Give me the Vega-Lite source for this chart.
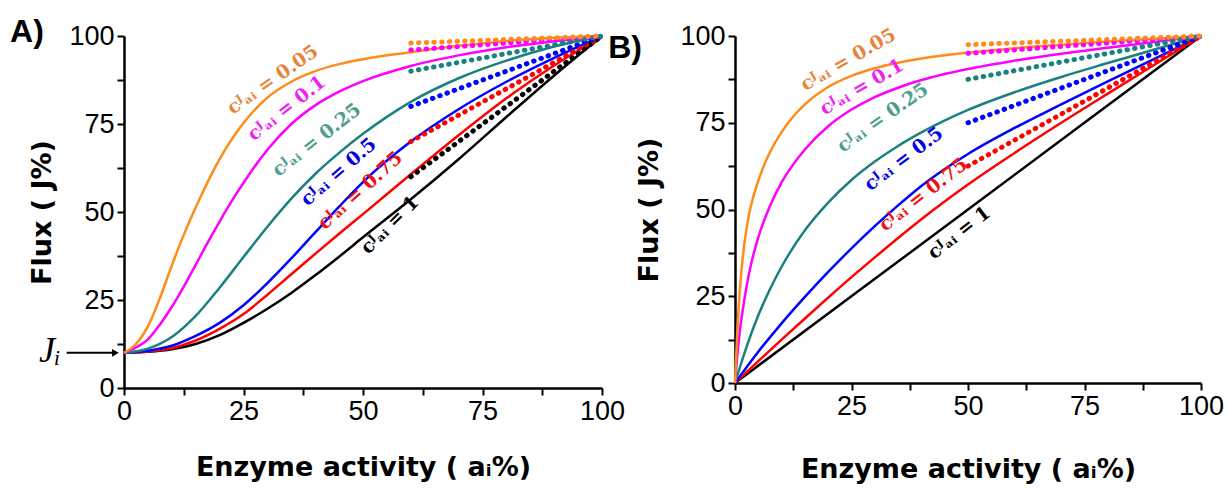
{
  "$schema": "https://vega.github.io/schema/vega-lite/v6.json",
  "background": "white",
  "padding": {"left": 10, "top": 16, "right": 5, "bottom": 5},
  "bounds": "flush",
  "spacing": 133,
  "config": {
    "view": {"stroke": null},
    "axis": {
      "grid": false,
      "domainColor": "black", "domainWidth": 2.5,
      "tickColor": "black", "tickWidth": 2, "tickSize": 7,
      "labelFont": "Liberation Sans", "labelFontSize": 27, "labelColor": "black", "labelPadding": 3,
      "labelFlush": false, "labelOverlap": false,
      "titleFont": "DejaVu Sans", "titleFontSize": 27, "titleFontWeight": "bold", "titleColor": "black"
    }
  },
  "datasets": {
    "curvesA": [
      {"C":"1","x":0,"J":10},{"C":"1","x":5,"J":10.3},{"C":"1","x":10,"J":11},{"C":"1","x":15,"J":12.5},{"C":"1","x":20,"J":15},{"C":"1","x":25,"J":18.5},{"C":"1","x":30,"J":22.5},{"C":"1","x":35,"J":27},{"C":"1","x":40,"J":32},{"C":"1","x":45,"J":37.3},{"C":"1","x":50,"J":42.8},{"C":"1","x":60,"J":53.6},{"C":"1","x":70,"J":65},{"C":"1","x":80,"J":77},{"C":"1","x":90,"J":88.8},{"C":"1","x":100,"J":100},
      {"C":"0.75","x":0,"J":10},{"C":"0.75","x":5,"J":10.4},{"C":"0.75","x":10,"J":11.3},{"C":"0.75","x":15,"J":13.5},{"C":"0.75","x":20,"J":16.8},{"C":"0.75","x":25,"J":21},{"C":"0.75","x":30,"J":26.5},{"C":"0.75","x":35,"J":32.3},{"C":"0.75","x":40,"J":38.1},{"C":"0.75","x":45,"J":43.8},{"C":"0.75","x":50,"J":49.4},{"C":"0.75","x":60,"J":60.7},{"C":"0.75","x":70,"J":71.8},{"C":"0.75","x":80,"J":82.3},{"C":"0.75","x":90,"J":91.6},{"C":"0.75","x":100,"J":100},
      {"C":"0.5","x":0,"J":10},{"C":"0.5","x":5,"J":10.6},{"C":"0.5","x":10,"J":12},{"C":"0.5","x":15,"J":14.8},{"C":"0.5","x":20,"J":18.5},{"C":"0.5","x":25,"J":23.5},{"C":"0.5","x":30,"J":29.8},{"C":"0.5","x":35,"J":36.8},{"C":"0.5","x":40,"J":44.2},{"C":"0.5","x":45,"J":51.5},{"C":"0.5","x":50,"J":58.5},{"C":"0.5","x":60,"J":70},{"C":"0.5","x":70,"J":79.2},{"C":"0.5","x":80,"J":87},{"C":"0.5","x":90,"J":93.8},{"C":"0.5","x":100,"J":100},
      {"C":"0.25","x":0,"J":10},{"C":"0.25","x":5,"J":11.2},{"C":"0.25","x":10,"J":14.5},{"C":"0.25","x":15,"J":20.5},{"C":"0.25","x":20,"J":28.5},{"C":"0.25","x":25,"J":37.2},{"C":"0.25","x":30,"J":45.8},{"C":"0.25","x":35,"J":53.8},{"C":"0.25","x":40,"J":60.8},{"C":"0.25","x":45,"J":66.8},{"C":"0.25","x":50,"J":72.2},{"C":"0.25","x":60,"J":81.3},{"C":"0.25","x":70,"J":88},{"C":"0.25","x":80,"J":93},{"C":"0.25","x":90,"J":97},{"C":"0.25","x":100,"J":100},
      {"C":"0.1","x":0,"J":10},{"C":"0.1","x":2.5,"J":11.5},{"C":"0.1","x":5,"J":13.8},{"C":"0.1","x":7.5,"J":18},{"C":"0.1","x":10,"J":23},{"C":"0.1","x":12.5,"J":28.8},{"C":"0.1","x":15,"J":35},{"C":"0.1","x":17.5,"J":41.3},{"C":"0.1","x":20,"J":47.3},{"C":"0.1","x":22.5,"J":53},{"C":"0.1","x":25,"J":58.3},{"C":"0.1","x":30,"J":67.7},{"C":"0.1","x":35,"J":75},{"C":"0.1","x":40,"J":80.3},{"C":"0.1","x":45,"J":84.2},{"C":"0.1","x":50,"J":87.2},{"C":"0.1","x":60,"J":91.5},{"C":"0.1","x":70,"J":94.5},{"C":"0.1","x":80,"J":96.8},{"C":"0.1","x":90,"J":98.5},{"C":"0.1","x":100,"J":100},
      {"C":"0.05","x":0,"J":10},{"C":"0.05","x":2.5,"J":12.5},{"C":"0.05","x":5,"J":17.5},{"C":"0.05","x":7.5,"J":25.5},{"C":"0.05","x":10,"J":34.8},{"C":"0.05","x":12.5,"J":43.5},{"C":"0.05","x":15,"J":51.3},{"C":"0.05","x":17.5,"J":58.5},{"C":"0.05","x":20,"J":65},{"C":"0.05","x":22.5,"J":70.6},{"C":"0.05","x":25,"J":75.3},{"C":"0.05","x":30,"J":82.5},{"C":"0.05","x":35,"J":87},{"C":"0.05","x":40,"J":90},{"C":"0.05","x":45,"J":92},{"C":"0.05","x":50,"J":93.4},{"C":"0.05","x":60,"J":95.4},{"C":"0.05","x":70,"J":97.2},{"C":"0.05","x":80,"J":98.6},{"C":"0.05","x":90,"J":99.5},{"C":"0.05","x":100,"J":100}
    ],
    "dotsA": [
      {"C":"1","x":60,"J":60},{"C":"1","x":100,"J":100},
      {"C":"0.75","x":60,"J":70},{"C":"0.75","x":100,"J":100},
      {"C":"0.5","x":60,"J":80},{"C":"0.5","x":100,"J":100},
      {"C":"0.25","x":60,"J":90},{"C":"0.25","x":100,"J":100},
      {"C":"0.1","x":60,"J":96},{"C":"0.1","x":100,"J":100},
      {"C":"0.05","x":60,"J":98},{"C":"0.05","x":100,"J":100}
    ],
    "labelsA": [
      {"C":"0.05","x":31.1,"J":87.6,"t":"cᴶₐᵢ = 0.05"},
      {"C":"0.1","x":34,"J":79.5,"t":"cᴶₐᵢ = 0.1"},
      {"C":"0.25","x":40.3,"J":70.5,"t":"cᴶₐᵢ = 0.25"},
      {"C":"0.5","x":44.9,"J":61.4,"t":"cᴶₐᵢ = 0.5"},
      {"C":"0.75","x":49.4,"J":56.1,"t":"cᴶₐᵢ = 0.75"},
      {"C":"1","x":55.6,"J":46.3,"t":"cᴶₐᵢ = 1"}
    ],
    "curvesB": [
      {"C":"1","x":0,"J":0},{"C":"1","x":50,"J":50},{"C":"1","x":100,"J":100},
      {"C":"0.75","x":0,"J":0},{"C":"0.75","x":5,"J":6.3},{"C":"0.75","x":10,"J":12.5},{"C":"0.75","x":15,"J":18.6},{"C":"0.75","x":20,"J":24.6},{"C":"0.75","x":25,"J":30.5},{"C":"0.75","x":30,"J":36.2},{"C":"0.75","x":35,"J":41.8},{"C":"0.75","x":40,"J":47.2},{"C":"0.75","x":50,"J":57.2},{"C":"0.75","x":60,"J":66.3},{"C":"0.75","x":70,"J":75},{"C":"0.75","x":80,"J":83.4},{"C":"0.75","x":90,"J":91.7},{"C":"0.75","x":100,"J":100},
      {"C":"0.5","x":0,"J":0},{"C":"0.5","x":5,"J":9},{"C":"0.5","x":10,"J":17.2},{"C":"0.5","x":15,"J":24.8},{"C":"0.5","x":20,"J":32},{"C":"0.5","x":25,"J":38.8},{"C":"0.5","x":30,"J":45.2},{"C":"0.5","x":35,"J":51.2},{"C":"0.5","x":40,"J":56.8},{"C":"0.5","x":50,"J":66},{"C":"0.5","x":60,"J":73.5},{"C":"0.5","x":70,"J":80.3},{"C":"0.5","x":80,"J":86.9},{"C":"0.5","x":90,"J":93.4},{"C":"0.5","x":100,"J":100},
      {"C":"0.25","x":0,"J":0},{"C":"0.25","x":2.5,"J":10.5},{"C":"0.25","x":5,"J":19.5},{"C":"0.25","x":7.5,"J":27},{"C":"0.25","x":10,"J":33.5},{"C":"0.25","x":15,"J":44},{"C":"0.25","x":20,"J":52},{"C":"0.25","x":25,"J":58.5},{"C":"0.25","x":30,"J":63.8},{"C":"0.25","x":35,"J":68.3},{"C":"0.25","x":40,"J":72.2},{"C":"0.25","x":50,"J":78.7},{"C":"0.25","x":60,"J":83.8},{"C":"0.25","x":70,"J":88.2},{"C":"0.25","x":80,"J":92.2},{"C":"0.25","x":90,"J":96.1},{"C":"0.25","x":100,"J":100},
      {"C":"0.1","x":0,"J":0},{"C":"0.1","x":0.5,"J":8},{"C":"0.1","x":1,"J":14.5},{"C":"0.1","x":2,"J":24},{"C":"0.1","x":3,"J":31.5},{"C":"0.1","x":5,"J":42},{"C":"0.1","x":7.5,"J":51},{"C":"0.1","x":10,"J":57.8},{"C":"0.1","x":12.5,"J":63},{"C":"0.1","x":15,"J":67.3},{"C":"0.1","x":20,"J":74},{"C":"0.1","x":25,"J":78.8},{"C":"0.1","x":30,"J":82.4},{"C":"0.1","x":35,"J":85.1},{"C":"0.1","x":40,"J":87.3},{"C":"0.1","x":50,"J":90.5},{"C":"0.1","x":60,"J":92.9},{"C":"0.1","x":70,"J":94.9},{"C":"0.1","x":80,"J":96.6},{"C":"0.1","x":90,"J":98.3},{"C":"0.1","x":100,"J":100},
      {"C":"0.05","x":0,"J":0},{"C":"0.05","x":0.5,"J":15},{"C":"0.05","x":1,"J":26},{"C":"0.05","x":1.5,"J":34},{"C":"0.05","x":2,"J":40},{"C":"0.05","x":3,"J":48.5},{"C":"0.05","x":4,"J":54},{"C":"0.05","x":5,"J":58.3},{"C":"0.05","x":6,"J":62},{"C":"0.05","x":7.5,"J":66.5},{"C":"0.05","x":10,"J":72.3},{"C":"0.05","x":12.5,"J":76.8},{"C":"0.05","x":15,"J":80.3},{"C":"0.05","x":20,"J":85.3},{"C":"0.05","x":25,"J":88.5},{"C":"0.05","x":30,"J":90.7},{"C":"0.05","x":35,"J":92.3},{"C":"0.05","x":40,"J":93.5},{"C":"0.05","x":50,"J":95.2},{"C":"0.05","x":60,"J":96.5},{"C":"0.05","x":70,"J":97.5},{"C":"0.05","x":80,"J":98.4},{"C":"0.05","x":90,"J":99.2},{"C":"0.05","x":100,"J":100}
    ],
    "dotsB": [
      {"C":"0.75","x":50,"J":62.5},{"C":"0.75","x":100,"J":100},
      {"C":"0.5","x":50,"J":75},{"C":"0.5","x":100,"J":100},
      {"C":"0.25","x":50,"J":87.5},{"C":"0.25","x":100,"J":100},
      {"C":"0.1","x":50,"J":95},{"C":"0.1","x":100,"J":100},
      {"C":"0.05","x":50,"J":97.5},{"C":"0.05","x":100,"J":100}
    ],
    "labelsB": [
      {"C":"0.05","x":24.3,"J":93.2,"t":"cᴶₐᵢ = 0.05"},
      {"C":"0.1","x":27.2,"J":85.3,"t":"cᴶₐᵢ = 0.1"},
      {"C":"0.25","x":31.7,"J":76.5,"t":"cᴶₐᵢ = 0.25"},
      {"C":"0.5","x":36.2,"J":64.6,"t":"cᴶₐᵢ = 0.5"},
      {"C":"0.75","x":40.4,"J":54.3,"t":"cᴶₐᵢ = 0.75"},
      {"C":"1","x":48.1,"J":43.3,"t":"cᴶₐᵢ = 1"}
    ],
    "tagA": [{"x":-20.3,"J":101,"t":"A)"}],
    "tagB": [{"x":-23.6,"J":96.5,"t":"B)"}],
    "jiA": [{"x":-15.5,"J":10.5,"t":"Jᵢ"}],
    "arrowA": [{"x":-12,"x2":-1.8,"J":10}]
  },
  "hconcat": [
    {
      "width": 478, "height": 352,
      "encoding": {
        "x": {"field":"x","type":"quantitative","scale":{"domain":[0,100],"nice":false,"zero":false},
              "axis":{"values":[0,12.5,25,37.5,50,62.5,75,87.5,100],"format":"d","labelExpr":"datum.value % 25 === 0 ? datum.label : ''","title":"Enzyme activity ( aᵢ%)","titlePadding":30}},
        "y": {"field":"J","type":"quantitative","scale":{"domain":[0,100],"nice":false,"zero":false},
              "axis":{"values":[0,12.5,25,37.5,50,62.5,75,87.5,100],"format":"d","labelExpr":"datum.value % 25 === 0 ? datum.label : ''","title":"Flux ( J%)","titlePadding":12}}
      },
      "layer": [
        {"data":{"name":"curvesA"},"mark":{"type":"line","strokeWidth":2.5,"interpolate":"monotone"},
         "encoding":{"color":{"field":"C","type":"nominal","legend":null,"scale":{"domain":["0.05","0.1","0.25","0.5","0.75","1"],"range":["#FF8C1A","#FF00FF","#1A8080","#0000FF","#FF0000","#000000"]}}}},
        {"data":{"name":"dotsA"},"mark":{"type":"line","strokeWidth":5,"strokeCap":"round","strokeDash":[0.5,7.2]},
         "encoding":{"color":{"field":"C","type":"nominal","legend":null,"scale":{"domain":["0.05","0.1","0.25","0.5","0.75","1"],"range":["#FF8C1A","#FF00FF","#1A8080","#0000FF","#FF0000","#000000"]}}}},
        {"data":{"name":"labelsA"},"transform":[{"filter":"datum.C === '0.05'"}],"mark":{"type":"text","font":"DejaVu Serif","fontWeight":"bold","fontSize":19,"align":"center","baseline":"middle","angle":325},
         "encoding":{"text":{"field":"t"},"fill":{"field":"C","type":"nominal","legend":null,"scale":{"domain":["0.05","0.1","0.25","0.5","0.75","1"],"range":["#E8843A","#F01EF0","#4E9E8E","#0000E6","#F01010","#000000"]}}}},
        {"data":{"name":"labelsA"},"transform":[{"filter":"datum.C === '0.1'"}],"mark":{"type":"text","font":"DejaVu Serif","fontWeight":"bold","fontSize":19,"align":"center","baseline":"middle","angle":322},
         "encoding":{"text":{"field":"t"},"fill":{"field":"C","type":"nominal","legend":null,"scale":{"domain":["0.05","0.1","0.25","0.5","0.75","1"],"range":["#E8843A","#F01EF0","#4E9E8E","#0000E6","#F01010","#000000"]}}}},
        {"data":{"name":"labelsA"},"transform":[{"filter":"datum.C === '0.25'"}],"mark":{"type":"text","font":"DejaVu Serif","fontWeight":"bold","fontSize":19,"align":"center","baseline":"middle","angle":322},
         "encoding":{"text":{"field":"t"},"fill":{"field":"C","type":"nominal","legend":null,"scale":{"domain":["0.05","0.1","0.25","0.5","0.75","1"],"range":["#E8843A","#F01EF0","#4E9E8E","#0000E6","#F01010","#000000"]}}}},
        {"data":{"name":"labelsA"},"transform":[{"filter":"datum.C === '0.5'"}],"mark":{"type":"text","font":"DejaVu Serif","fontWeight":"bold","fontSize":19,"align":"center","baseline":"middle","angle":319},
         "encoding":{"text":{"field":"t"},"fill":{"field":"C","type":"nominal","legend":null,"scale":{"domain":["0.05","0.1","0.25","0.5","0.75","1"],"range":["#E8843A","#F01EF0","#4E9E8E","#0000E6","#F01010","#000000"]}}}},
        {"data":{"name":"labelsA"},"transform":[{"filter":"datum.C === '0.75'"}],"mark":{"type":"text","font":"DejaVu Serif","fontWeight":"bold","fontSize":19,"align":"center","baseline":"middle","angle":318},
         "encoding":{"text":{"field":"t"},"fill":{"field":"C","type":"nominal","legend":null,"scale":{"domain":["0.05","0.1","0.25","0.5","0.75","1"],"range":["#E8843A","#F01EF0","#4E9E8E","#0000E6","#F01010","#000000"]}}}},
        {"data":{"name":"labelsA"},"transform":[{"filter":"datum.C === '1'"}],"mark":{"type":"text","font":"DejaVu Serif","fontWeight":"bold","fontSize":19,"align":"center","baseline":"middle","angle":315},
         "encoding":{"text":{"field":"t"},"fill":{"field":"C","type":"nominal","legend":null,"scale":{"domain":["0.05","0.1","0.25","0.5","0.75","1"],"range":["#E8843A","#F01EF0","#4E9E8E","#0000E6","#F01010","#000000"]}}}},
        {"data":{"name":"tagA"},"mark":{"type":"text","font":"Liberation Sans","fontWeight":"bold","fontSize":32,"align":"center","baseline":"middle","color":"black"},
         "encoding":{"text":{"field":"t"}}},
        {"data":{"name":"jiA"},"mark":{"type":"text","font":"Liberation Serif","fontStyle":"italic","fontSize":36,"align":"center","baseline":"middle","color":"black"},
         "encoding":{"text":{"field":"t"}}},
        {"data":{"name":"arrowA"},"mark":{"type":"rule","color":"black","strokeWidth":2},
         "encoding":{"x2":{"field":"x2"}}},
        {"data":{"name":"arrowA"},"mark":{"type":"point","shape":"triangle-right","filled":true,"color":"black","size":60,"opacity":1},
         "encoding":{"x":{"field":"x2","type":"quantitative"}}}
      ]
    },
    {
      "width": 466, "height": 347,
      "encoding": {
        "x": {"field":"x","type":"quantitative","scale":{"domain":[0,100],"nice":false,"zero":false},
              "axis":{"values":[0,12.5,25,37.5,50,62.5,75,87.5,100],"format":"d","labelExpr":"datum.value % 25 === 0 ? datum.label : ''","title":"Enzyme activity ( aᵢ%)","titlePadding":37}},
        "y": {"field":"J","type":"quantitative","scale":{"domain":[0,100],"nice":false,"zero":false},
              "axis":{"values":[0,12.5,25,37.5,50,62.5,75,87.5,100],"format":"d","labelExpr":"datum.value % 25 === 0 ? datum.label : ''","title":"Flux ( J%)","titlePadding":16}}
      },
      "layer": [
        {"data":{"name":"curvesB"},"mark":{"type":"line","strokeWidth":2.5,"interpolate":"monotone"},
         "encoding":{"color":{"field":"C","type":"nominal","legend":null,"scale":{"domain":["0.05","0.1","0.25","0.5","0.75","1"],"range":["#FF8C1A","#FF00FF","#1A8080","#0000FF","#FF0000","#000000"]}}}},
        {"data":{"name":"dotsB"},"mark":{"type":"line","strokeWidth":5,"strokeCap":"round","strokeDash":[0.5,7.2]},
         "encoding":{"color":{"field":"C","type":"nominal","legend":null,"scale":{"domain":["0.05","0.1","0.25","0.5","0.75","1"],"range":["#FF8C1A","#FF00FF","#1A8080","#0000FF","#FF0000","#000000"]}}}},
        {"data":{"name":"labelsB"},"transform":[{"filter":"datum.C === '0.05'"}],"mark":{"type":"text","font":"DejaVu Serif","fontWeight":"bold","fontSize":19,"align":"center","baseline":"middle","angle":330},
         "encoding":{"text":{"field":"t"},"fill":{"field":"C","type":"nominal","legend":null,"scale":{"domain":["0.05","0.1","0.25","0.5","0.75","1"],"range":["#E8843A","#F01EF0","#4E9E8E","#0000E6","#F01010","#000000"]}}}},
        {"data":{"name":"labelsB"},"transform":[{"filter":"datum.C === '0.1'"}],"mark":{"type":"text","font":"DejaVu Serif","fontWeight":"bold","fontSize":19,"align":"center","baseline":"middle","angle":330},
         "encoding":{"text":{"field":"t"},"fill":{"field":"C","type":"nominal","legend":null,"scale":{"domain":["0.05","0.1","0.25","0.5","0.75","1"],"range":["#E8843A","#F01EF0","#4E9E8E","#0000E6","#F01010","#000000"]}}}},
        {"data":{"name":"labelsB"},"transform":[{"filter":"datum.C === '0.25'"}],"mark":{"type":"text","font":"DejaVu Serif","fontWeight":"bold","fontSize":19,"align":"center","baseline":"middle","angle":325},
         "encoding":{"text":{"field":"t"},"fill":{"field":"C","type":"nominal","legend":null,"scale":{"domain":["0.05","0.1","0.25","0.5","0.75","1"],"range":["#E8843A","#F01EF0","#4E9E8E","#0000E6","#F01010","#000000"]}}}},
        {"data":{"name":"labelsB"},"transform":[{"filter":"datum.C === '0.5'"}],"mark":{"type":"text","font":"DejaVu Serif","fontWeight":"bold","fontSize":19,"align":"center","baseline":"middle","angle":323},
         "encoding":{"text":{"field":"t"},"fill":{"field":"C","type":"nominal","legend":null,"scale":{"domain":["0.05","0.1","0.25","0.5","0.75","1"],"range":["#E8843A","#F01EF0","#4E9E8E","#0000E6","#F01010","#000000"]}}}},
        {"data":{"name":"labelsB"},"transform":[{"filter":"datum.C === '0.75'"}],"mark":{"type":"text","font":"DejaVu Serif","fontWeight":"bold","fontSize":19,"align":"center","baseline":"middle","angle":322},
         "encoding":{"text":{"field":"t"},"fill":{"field":"C","type":"nominal","legend":null,"scale":{"domain":["0.05","0.1","0.25","0.5","0.75","1"],"range":["#E8843A","#F01EF0","#4E9E8E","#0000E6","#F01010","#000000"]}}}},
        {"data":{"name":"labelsB"},"transform":[{"filter":"datum.C === '1'"}],"mark":{"type":"text","font":"DejaVu Serif","fontWeight":"bold","fontSize":19,"align":"center","baseline":"middle","angle":322},
         "encoding":{"text":{"field":"t"},"fill":{"field":"C","type":"nominal","legend":null,"scale":{"domain":["0.05","0.1","0.25","0.5","0.75","1"],"range":["#E8843A","#F01EF0","#4E9E8E","#0000E6","#F01010","#000000"]}}}},
        {"data":{"name":"tagB"},"mark":{"type":"text","font":"Liberation Sans","fontWeight":"bold","fontSize":32,"align":"center","baseline":"middle","color":"black"},
         "encoding":{"text":{"field":"t"}}}
      ]
    }
  ]
}
